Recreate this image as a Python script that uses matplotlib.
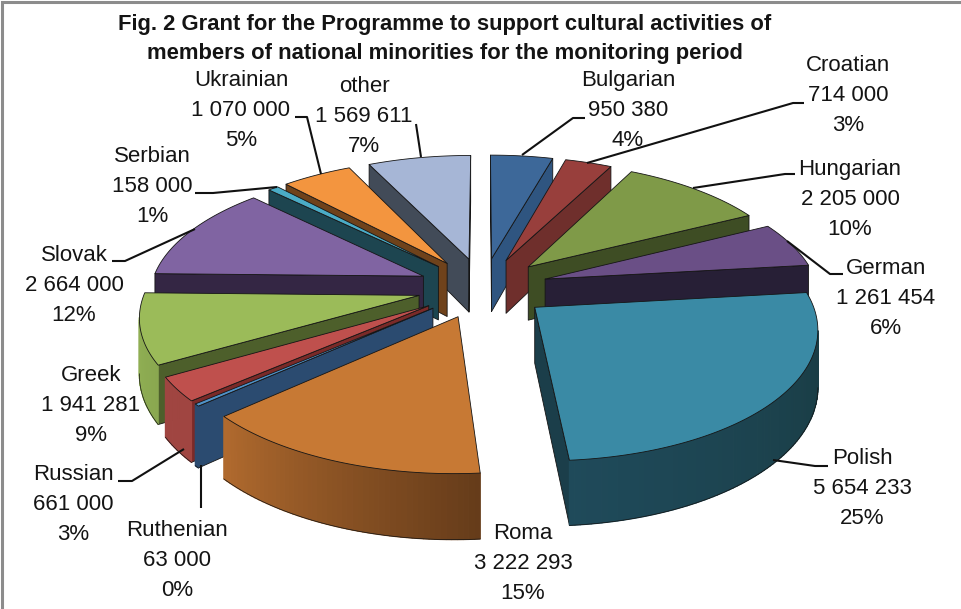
import numpy as np
import matplotlib
matplotlib.use("Agg")
import matplotlib.pyplot as plt
from matplotlib.patches import Polygon
from matplotlib.colors import to_rgb

# Grant per national minority, clockwise from twelve o'clock
groups = ["Bulgarian", "Croatian", "Hungarian", "German", "Polish", "Roma", "Ruthenian",
          "Russian", "Greek", "Slovak", "Serbian", "Ukrainian", "other"]
grants = [950380, 714000, 2205000, 1261454, 5654233, 3222293, 63000,
          661000, 1941281, 2664000, 158000, 1070000, 1569611]
share_labels = ["4%", "3%", "10%", "6%", "25%", "15%", "0%", "3%", "9%", "12%", "1%", "5%", "7%"]

title = ("Fig. 2 Grant for the Programme to support cultural activities of\n"
         "members of national minorities for the monitoring period")

top_colors = ["#3d6899", "#983f3c", "#7f9a48", "#6a4f86", "#3a8aa5", "#c77934", "#4f92c8",
              "#bf504d", "#9bbb59", "#8064a2", "#4bacc6", "#f3953f", "#a6b6d6"]
wall_colors = ["#2f5580", "#6f2f2c", "#3e4d24", "#271f36", "#1b3e4a", "#a8662c", "#2b4b70",
               "#7a2a28", "#4d5f2b", "#342644", "#1d4550", "#6f421b", "#424b58"]
# Rim shading at the start and at the end of each slice's arc
rim_start = ["#2f5580", "#6f2f2c", "#3e4d24", "#271f36", "#18393f", "#663c1a", "#2b4b70",
             "#a04541", "#8aa850", "#342644", "#1d4550", "#6f421b", "#424b58"]
rim_end = ["#2f5580", "#6f2f2c", "#3e4d24", "#271f36", "#1f4a5a", "#b06a2e", "#2b4b70",
           "#a04541", "#93b255", "#342644", "#1d4550", "#6f421b", "#424b58"]

label_pos = [(628, 110.5), (848, 95.5), (850, 199.5), (886, 298.5), (862, 488.5), (523, 563.5),
             (177, 560.5), (73, 504.5), (91, 405.5), (74, 285.5), (152, 186.5), (241, 110.5), (364, 116.5)]
leaders = [
    [(522, 155), (573, 118), (585, 118)],
    [(587, 163), (793, 103), (804, 103)],
    [(693, 188), (785, 174), (795, 174)],
    [(787, 241), (830, 274), (843, 274)],
    [(773, 460), (815, 466), (828, 466)],
    None,
    [(201, 465), (201, 508)],
    [(184, 449), (132, 481), (118, 481)],
    None,
    [(195, 229), (125, 261), (112, 261)],
    [(277, 187), (213, 193), (195, 193)],
    [(321, 174), (307, 117), (295, 117)],
    [(421, 157), (416, 124)],
]

# Perspective view of the pie: unit radius, exploded slices
CX, CY = 483.0, 287.7
SCALE, PERSP, TILT = 273.0, 0.141, 125.8
EXPLODE, THICK = 0.24, 0.2


def project(x, y, down=0.0):
    s = SCALE / (1 + PERSP * y)
    return CX + x * s, CY - TILT * y / (1 + PERSP * y) + THICK * down * s


def signed_area(pts):
    p = np.asarray(pts)
    return 0.5 * np.sum(p[:, 0] * np.roll(p[:, 1], -1) - np.roll(p[:, 0], -1) * p[:, 1])


def quad(x0, y0, x1, y1):
    return [project(x0, y0), project(x1, y1), project(x1, y1, 1), project(x0, y0, 1)]


fig = plt.figure(figsize=(9.62, 6.09), dpi=100, facecolor="white")
ax = fig.add_axes([0, 0, 1, 1])
ax.set_xlim(0, 962)
ax.set_ylim(609, 0)
ax.axis("off")

EDGE = dict(edgecolor="#151515", linewidth=0.6, joinstyle="round")
shares = np.array(grants, dtype=float) / np.sum(grants)
ends = np.cumsum(shares) * 2 * np.pi
starts = ends - shares * 2 * np.pi
mids = (starts + ends) / 2

# Far slices are painted first so nearer ones overlap them
for i in np.argsort(-np.cos(mids)):
    t = np.linspace(starts[i], ends[i], max(6, int((ends[i] - starts[i]) * 60)))
    ox, oy = EXPLODE * np.sin(mids[i]), EXPLODE * np.cos(mids[i])
    xs, ys = ox + np.sin(t), oy + np.cos(t)

    # Cut faces: keep only those turned towards the viewer
    for (xe, ye, sign) in ((xs[0], ys[0], -1), (xs[-1], ys[-1], 1)):
        q = quad(ox, oy, xe, ye)
        if sign * signed_area(q) > 0:
            ax.add_patch(Polygon(q, closed=True, facecolor=wall_colors[i], zorder=3, **EDGE))

    # Outer rim, shaded along the arc
    c0, c1 = np.array(to_rgb(rim_start[i])), np.array(to_rgb(rim_end[i]))
    lower = []
    for j in range(len(t) - 1):
        q = quad(xs[j], ys[j], xs[j + 1], ys[j + 1])
        if signed_area(q) < 0:
            col = c0 + (c1 - c0) * j / max(1, len(t) - 2)
            ax.add_patch(Polygon(q, closed=True, facecolor=col, edgecolor=col, linewidth=0.9,
                                 snap=False, zorder=3))
            lower += [q[3], q[2]]
    if lower:
        ax.plot(*zip(*lower), color="#151515", lw=0.5, zorder=3)

    # Top face
    top = [project(ox, oy)] + [project(a, b) for a, b in zip(xs, ys)]
    ax.add_patch(Polygon(top, closed=True, facecolor=top_colors[i], zorder=3, **EDGE))

for i, name in enumerate(groups):
    value = f"{grants[i]:,}".replace(",", " ")
    ax.text(*label_pos[i], f"{name}\n{value}\n{share_labels[i]}", ha="center", va="center",
            family="Liberation Sans", fontsize=16, linespacing=1.57, color="#141414", zorder=5)
    if leaders[i]:
        ax.plot(*zip(*leaders[i]), color="#111111", lw=1.5, zorder=4,
                solid_capstyle="butt", solid_joinstyle="round")

ax.text(445, 39, title, ha="center", va="center", fontweight="bold",
        family="Liberation Sans", fontsize=15.8, linespacing=1.5, color="#141414", zorder=5)

# Grey frame along the left and top sides
ax.plot([2, 2, 962], [609, 2, 2], color="#8c8c8c", lw=2.2, zorder=6, solid_joinstyle="miter")

fig.savefig("out.png", dpi=100, facecolor="white")
